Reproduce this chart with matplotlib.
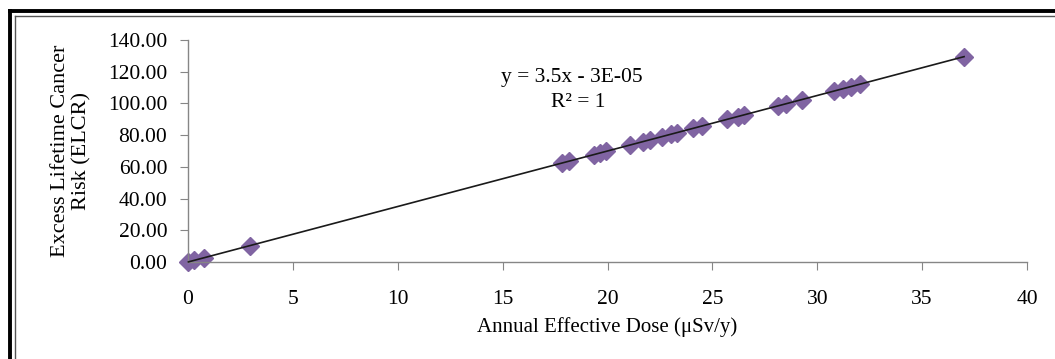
import numpy as np
import matplotlib.pyplot as plt
from matplotlib.lines import Line2D

plt.rcParams['font.family'] = ['Liberation Serif', 'DejaVu Serif']

# annual effective dose (uSv/y) and ELCR values
dose = [0.02, 0.3, 0.75, 2.95, 17.85, 18.15, 19.35, 19.65, 19.95, 21.05,
        21.7, 22.05, 22.6, 23.05, 23.3, 24.1, 24.5, 25.7, 26.2, 26.5,
        28.15, 28.5, 29.25, 30.8, 31.25, 31.6, 32.05, 37.0]
elcr = [0.07, 1.05, 2.63, 10.33, 62.48, 63.53, 67.73, 68.78, 69.83, 73.68,
        75.95, 77.18, 79.10, 80.68, 81.55, 84.35, 85.75, 89.95, 91.70, 92.75,
        98.53, 99.75, 102.38, 107.80, 109.38, 110.60, 112.18, 129.50]

x_ticks = [0, 5, 10, 15, 20, 25, 30, 35, 40]
y_ticks = [0, 20, 40, 60, 80, 100, 120, 140]

W, H = 1055, 359
fig = plt.figure(figsize=(W / 100, H / 100), dpi=100)
ax = fig.add_axes([188 / W, 1 - 262 / H, (1027 - 188) / W, (262 - 40) / H])

x = np.array(dose)
y = np.array(elcr)
ax.plot(x, y, linestyle='none', marker='D', ms=9.5, color='#8064A2',
        zorder=2, clip_on=False)

# linear trendline
k, b = np.polyfit(x, y, 1)
xl = np.array([x.min(), x.max()])
ax.plot(xl, k * xl + b, color='#1a1a1a', lw=1.2, zorder=3, clip_on=False)

ax.set_xlim(0, 40)
ax.set_ylim(0, 140)
ax.set_xticks(x_ticks)
ax.set_yticks(y_ticks)
ax.set_yticklabels(['%.2f' % v for v in y_ticks])

for s in ['top', 'right']:
    ax.spines[s].set_visible(False)
for s in ['left', 'bottom']:
    ax.spines[s].set_color('#868686')
    ax.spines[s].set_linewidth(1.0)
ax.tick_params(direction='out', length=6, color='#868686', labelsize=15.5)
ax.tick_params(axis='y', pad=9)
ax.tick_params(axis='x', pad=14)

ax.set_xlabel('Annual Effective Dose (\u03bcSv/y)', fontsize=15, labelpad=6)
ax.set_ylabel('Excess Lifetime Cancer\nRisk (ELCR)', fontsize=16, labelpad=12,
              linespacing=1.1)

ax.text(0.457, 0.83, 'y = 3.5x - 3E-05', transform=ax.transAxes,
        ha='center', va='center', fontsize=15.5)
ax.text(0.465, 0.72, 'R\u00b2 = 1', transform=ax.transAxes,
        ha='center', va='center', fontsize=15.5)

# frame around the chart
fig.add_artist(Line2D([10 / W, 10 / W], [0, 1 - 11 / H], color='black', lw=2.8,
                      transform=fig.transFigure))
fig.add_artist(Line2D([10 / W, 1], [1 - 11 / H, 1 - 11 / H], color='black', lw=2.8,
                      transform=fig.transFigure))
fig.add_artist(Line2D([14.5 / W, 14.5 / W], [0, 1 - 16 / H], color='#555555', lw=1.0,
                      transform=fig.transFigure))
fig.add_artist(Line2D([14.5 / W, 1], [1 - 16 / H, 1 - 16 / H], color='#555555', lw=1.0,
                      transform=fig.transFigure))

fig.savefig('out.png', dpi=100)
